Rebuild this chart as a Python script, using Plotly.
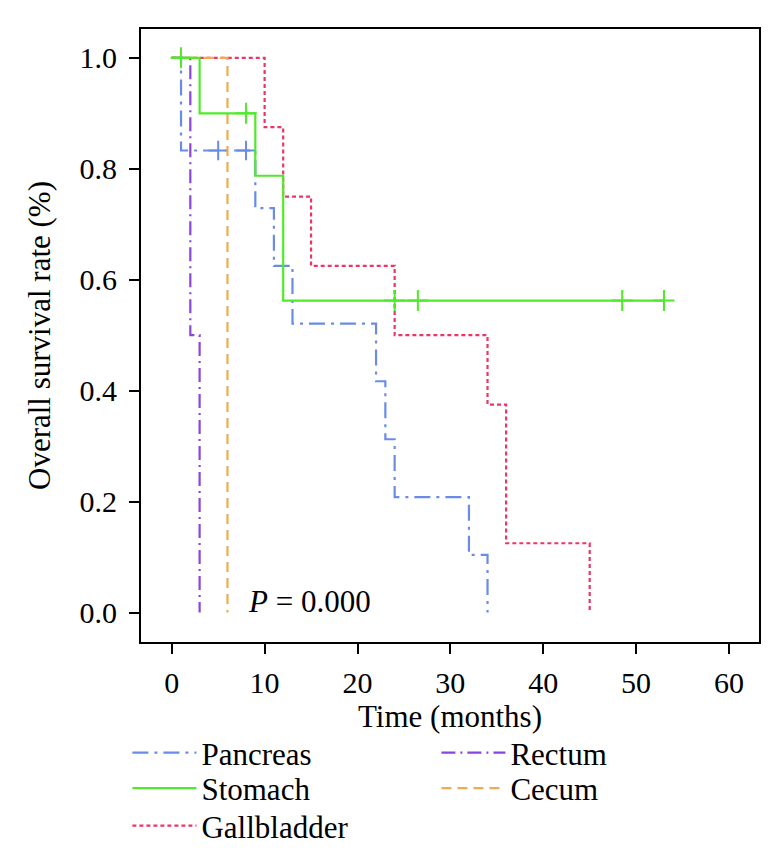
import plotly.graph_objects as go

# ---- data ----
pancreas_t = [0, 1, 9, 11, 13, 22, 23, 24, 32, 34]
pancreas_s = [1.0, 0.833, 0.729, 0.625, 0.521, 0.417, 0.3125, 0.208, 0.104, 0.0]
pancreas_cens_t = [5, 8]
pancreas_cens_s = [0.833, 0.833]

stomach_t = [0, 3, 9, 12, 53]
stomach_s = [1.0, 0.9, 0.7875, 0.5625, 0.5625]
stomach_cens_t = [1, 8, 24, 26.5, 48.5, 53]
stomach_cens_s = [1.0, 0.9, 0.5625, 0.5625, 0.5625, 0.5625]

gall_t = [0, 10, 12, 15, 24, 34, 36, 45]
gall_s = [1.0, 0.875, 0.75, 0.625, 0.5, 0.375, 0.125, 0.0]

rectum_t = [0, 2, 3]
rectum_s = [1.0, 0.5, 0.0]

cecum_t = [0, 6]
cecum_s = [1.0, 0.0]

x_ticks = [0, 10, 20, 30, 40, 50, 60]
y_ticks = [0.0, 0.2, 0.4, 0.6, 0.8, 1.0]
y_ticklabels = ["0.0", "0.2", "0.4", "0.6", "0.8", "1.0"]

# ---- styles ----
C_PAN = "#6A8CE6"
C_STO = "#4FEA28"
C_GAL = "#EB3565"
C_REC = "#8B45DC"
C_CEC = "#F0AA55"
FONT = "Liberation Serif"
LW = 2.2
LEG_FONT = 31

fig = go.Figure()

fig.add_trace(go.Scatter(x=pancreas_t, y=pancreas_s, mode="lines", line_shape="hv",
                         line=dict(color=C_PAN, width=LW, dash="16px,6px,3px,6px"),
                         name="Pancreas", legend="legend"))
fig.add_trace(go.Scatter(x=pancreas_cens_t, y=pancreas_cens_s, mode="markers",
                         marker=dict(symbol="cross-thin", size=14, line=dict(color=C_PAN, width=2)),
                         showlegend=False))
fig.add_trace(go.Scatter(x=gall_t, y=gall_s, mode="lines", line_shape="hv",
                         line=dict(color=C_GAL, width=LW, dash="4px,3px"),
                         name="Gallbladder", legend="legend3"))
fig.add_trace(go.Scatter(x=rectum_t, y=rectum_s, mode="lines", line_shape="hv",
                         line=dict(color=C_REC, width=LW, dash="14px,5px,2px,5px"),
                         name="Rectum", legend="legend4"))
fig.add_trace(go.Scatter(x=cecum_t, y=cecum_s, mode="lines", line_shape="hv",
                         line=dict(color=C_CEC, width=LW, dash="10px,6px"),
                         name="Cecum", legend="legend5"))
fig.add_trace(go.Scatter(x=stomach_t, y=stomach_s, mode="lines", line_shape="hv",
                         line=dict(color=C_STO, width=LW),
                         name="Stomach", legend="legend2"))
fig.add_trace(go.Scatter(x=stomach_cens_t, y=stomach_cens_s, mode="markers",
                         marker=dict(symbol="cross-thin", size=15, line=dict(color=C_STO, width=2)),
                         showlegend=False))

fig.add_annotation(x=8, y=0.02, xref="x", yref="y", xanchor="left", yanchor="middle",
                   text="<i>P</i> = 0.000", showarrow=False,
                   font=dict(family=FONT, size=31, color="black"))


def leg(x, y):
    return dict(x=x, y=y, xanchor="left", yanchor="middle", orientation="v",
                font=dict(size=LEG_FONT), bgcolor="rgba(0,0,0,0)", itemwidth=64)


fig.update_layout(
    width=773, height=857,
    margin=dict(l=133, r=22, t=21, b=217),
    plot_bgcolor="white", paper_bgcolor="white",
    font=dict(family=FONT, size=30, color="black"),
    xaxis=dict(range=[-3.31, 63.23], tickmode="array", tickvals=x_ticks,
               ticks="outside", ticklen=10, tickwidth=2, tickcolor="black",
               showline=True, linecolor="black", linewidth=2, mirror=True,
               showgrid=False, zeroline=False, ticklabelstandoff=3,
               title=dict(text="Time (months)", font=dict(size=31), standoff=6),
               tickfont=dict(size=30)),
    yaxis=dict(range=[-0.053, 1.052], tickmode="array", tickvals=y_ticks, ticktext=y_ticklabels,
               ticks="outside", ticklen=10, tickwidth=2, tickcolor="black",
               showline=True, linecolor="black", linewidth=2, mirror=True,
               showgrid=False, zeroline=False, ticklabelstandoff=6,
               title=dict(text="Overall survival rate (%)", font=dict(size=31), standoff=20),
               tickfont=dict(size=30)),
    legend=leg(-0.022, -0.181),
    legend2=leg(-0.022, -0.239),
    legend3=leg(-0.022, -0.300),
    legend4=leg(0.478, -0.181),
    legend5=leg(0.478, -0.239),
)

fig.write_html("out.html")
